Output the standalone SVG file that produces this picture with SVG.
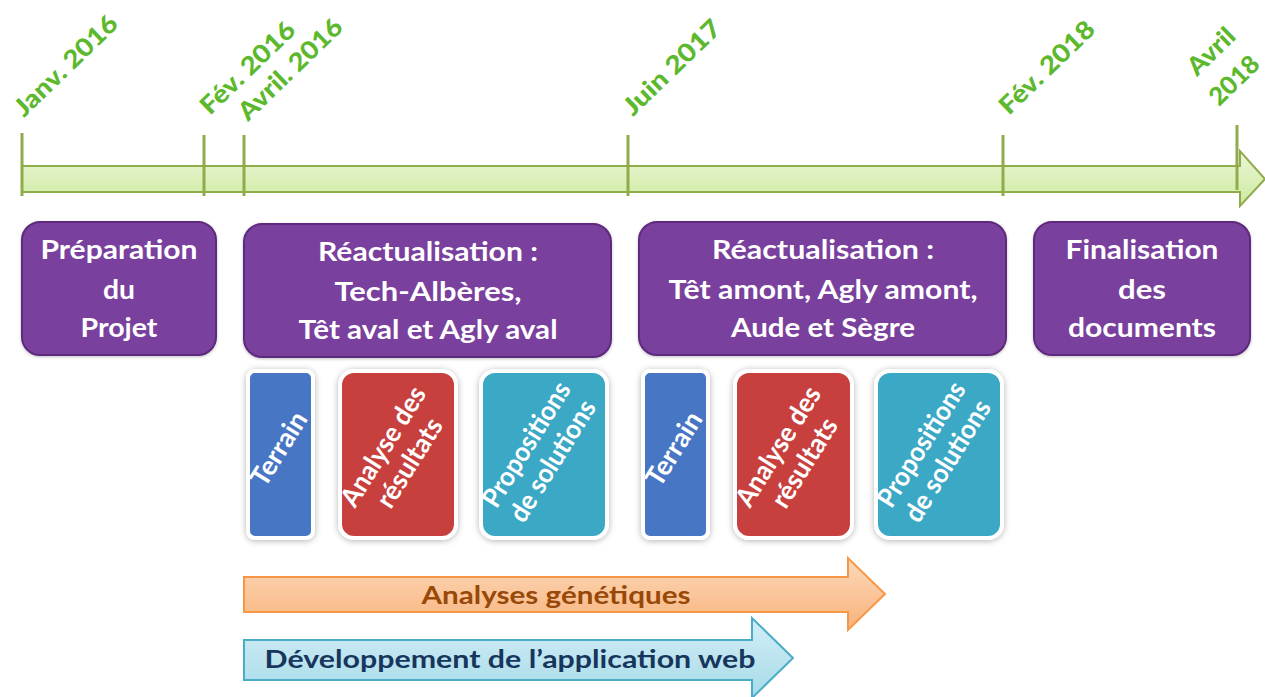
<svg xmlns="http://www.w3.org/2000/svg" width="1265" height="697" viewBox="0 0 1265 697">
<defs>
<linearGradient id="gGreen" x1="0" y1="0" x2="0" y2="1"><stop offset="0" stop-color="#eaf7d6"/><stop offset="1" stop-color="#cdeaa0"/></linearGradient>
<linearGradient id="gOrange" x1="0" y1="0" x2="0" y2="1"><stop offset="0" stop-color="#fcd9bb"/><stop offset="1" stop-color="#f9b27a"/></linearGradient>
<linearGradient id="gBlue" x1="0" y1="0" x2="0" y2="1"><stop offset="0" stop-color="#d3eef6"/><stop offset="1" stop-color="#a6dbe9"/></linearGradient>
<filter id="sh" x="-20%" y="-20%" width="140%" height="140%"><feDropShadow dx="0" dy="1" stdDeviation="3" flood-color="#000" flood-opacity="0.3"/></filter>
<filter id="shp" x="-10%" y="-10%" width="120%" height="120%"><feDropShadow dx="0" dy="1" stdDeviation="1.5" flood-color="#000" flood-opacity="0.25"/></filter>
</defs>
<style>
text{font-family:Lato,"Liberation Sans",sans-serif;font-weight:bold}
.date{fill:#5cb82c;font-size:25px;font-weight:900}
.tick{stroke:#8fab4b;stroke-width:3}
.phase{fill:#7a3f9d;stroke:#5d2a7e;stroke-width:2;filter:url(#shp)}
.ptxt{fill:#ffffff;font-size:26px;text-anchor:middle}
.sub{stroke:#ffffff;stroke-width:4;filter:url(#sh)}
.stxt{fill:#ffffff;font-size:27px;text-anchor:middle}
.terrain{fill:#4676c4}
.analyse{fill:#c8403c}
.prop{fill:#3aa8c6}
</style>
<rect width="1265" height="697" fill="#ffffff"/>

<g id="timeline">
<path d="M22,166 L1240,166 L1240,151 L1265,179 L1240,206 L1240,192 L22,192 Z" fill="url(#gGreen)" stroke="#8fab4b" stroke-width="2"/>
<line class="tick" x1="22" y1="133" x2="22" y2="196"/>
<line class="tick" x1="204" y1="135" x2="204" y2="196"/>
<line class="tick" x1="244" y1="135" x2="244" y2="196"/>
<line class="tick" x1="628" y1="135" x2="628" y2="196"/>
<line class="tick" x1="1003" y1="135" x2="1003" y2="196"/>
<line class="tick" x1="1237" y1="125" x2="1237" y2="190"/>
</g>

<g id="dates">
<text class="date" transform="translate(24,118) rotate(-44)" textLength="133" lengthAdjust="spacingAndGlyphs">Janv. 2016</text>
<text class="date" transform="translate(210,116) rotate(-44)" textLength="121" lengthAdjust="spacingAndGlyphs">Fév. 2016</text>
<text class="date" transform="translate(248,122) rotate(-44)" textLength="134" lengthAdjust="spacingAndGlyphs">Avril. 2016</text>
<text class="date" transform="translate(633,117) rotate(-44)" textLength="125" lengthAdjust="spacingAndGlyphs">Juin 2017</text>
<text class="date" transform="translate(1009,116) rotate(-44)" textLength="122" lengthAdjust="spacingAndGlyphs">Fév. 2018</text>
<text class="date" transform="translate(1197,77) rotate(-44)" textLength="56" lengthAdjust="spacingAndGlyphs">Avril</text>
<text class="date" transform="translate(1219,107) rotate(-44)" textLength="59" lengthAdjust="spacingAndGlyphs">2018</text>
</g>

<g id="phase-preparation">
<rect class="phase" x="22" y="222" width="194" height="133" rx="18"/>
<text class="ptxt" x="119" y="259" textLength="157" lengthAdjust="spacingAndGlyphs">Préparation</text>
<text class="ptxt" x="119" y="299" textLength="32" lengthAdjust="spacingAndGlyphs">du</text>
<text class="ptxt" x="119" y="337" textLength="77" lengthAdjust="spacingAndGlyphs">Projet</text>
</g>

<g id="phase-reactualisation-1">
<rect class="phase" x="244" y="224" width="367" height="133" rx="18"/>
<text class="ptxt" x="428" y="261" textLength="220" lengthAdjust="spacingAndGlyphs">Réactualisation :</text>
<text class="ptxt" x="428" y="301" textLength="187" lengthAdjust="spacingAndGlyphs">Tech-Albères,</text>
<text class="ptxt" x="428" y="339" textLength="259" lengthAdjust="spacingAndGlyphs">Têt aval et Agly aval</text>
</g>

<g id="phase-reactualisation-2">
<rect class="phase" x="639" y="222" width="367" height="133" rx="18"/>
<text class="ptxt" x="823" y="259" textLength="222" lengthAdjust="spacingAndGlyphs">Réactualisation :</text>
<text class="ptxt" x="823" y="299" textLength="309" lengthAdjust="spacingAndGlyphs">Têt amont, Agly amont,</text>
<text class="ptxt" x="823" y="337" textLength="184" lengthAdjust="spacingAndGlyphs">Aude et Sègre</text>
</g>

<g id="phase-finalisation">
<rect class="phase" x="1034" y="222" width="216" height="133" rx="18"/>
<text class="ptxt" x="1142" y="259" textLength="153" lengthAdjust="spacingAndGlyphs">Finalisation</text>
<text class="ptxt" x="1142" y="299" textLength="48" lengthAdjust="spacingAndGlyphs">des</text>
<text class="ptxt" x="1142" y="337" textLength="148" lengthAdjust="spacingAndGlyphs">documents</text>
</g>

<g id="terrain-1">
<rect class="sub terrain" x="248" y="371" width="65" height="167" rx="7"/>
<text class="stxt" transform="translate(279,449) rotate(-58)" y="9" textLength="82" lengthAdjust="spacingAndGlyphs">Terrain</text>
</g>
<g id="analyse-1">
<rect class="sub analyse" x="340" y="371" width="116" height="167" rx="14"/>
<text class="stxt" transform="translate(397,455) rotate(-58)" textLength="136" lengthAdjust="spacingAndGlyphs" y="-7">Analyse des</text>
<text class="stxt" transform="translate(397,455) rotate(-58)" textLength="100" lengthAdjust="spacingAndGlyphs" y="24">résultats</text>
</g>
<g id="propositions-1">
<rect class="sub prop" x="481" y="371" width="126" height="167" rx="14"/>
<text class="stxt" transform="translate(540,453) rotate(-58)" textLength="142" lengthAdjust="spacingAndGlyphs" y="-7">Propositions</text>
<text class="stxt" transform="translate(540,453) rotate(-58)" textLength="138" lengthAdjust="spacingAndGlyphs" y="24">de solutions</text>
</g>

<g id="terrain-2">
<rect class="sub terrain" x="643" y="371" width="65" height="167" rx="7"/>
<text class="stxt" transform="translate(674,449) rotate(-58)" y="9" textLength="82" lengthAdjust="spacingAndGlyphs">Terrain</text>
</g>
<g id="analyse-2">
<rect class="sub analyse" x="735" y="371" width="117" height="167" rx="14"/>
<text class="stxt" transform="translate(792,455) rotate(-58)" textLength="136" lengthAdjust="spacingAndGlyphs" y="-7">Analyse des</text>
<text class="stxt" transform="translate(792,455) rotate(-58)" textLength="100" lengthAdjust="spacingAndGlyphs" y="24">résultats</text>
</g>
<g id="propositions-2">
<rect class="sub prop" x="876" y="371" width="126" height="167" rx="14"/>
<text class="stxt" transform="translate(935,453) rotate(-58)" textLength="142" lengthAdjust="spacingAndGlyphs" y="-7">Propositions</text>
<text class="stxt" transform="translate(935,453) rotate(-58)" textLength="138" lengthAdjust="spacingAndGlyphs" y="24">de solutions</text>
</g>

<g id="analyses-genetiques">
<path d="M244,577 L848,577 L848,558 L885,594 L848,630 L848,612 L244,612 Z" fill="url(#gOrange)" stroke="#f79646" stroke-width="2"/>
<text x="556" y="604" fill="#984807" font-size="25" text-anchor="middle" textLength="269" lengthAdjust="spacingAndGlyphs">Analyses génétiques</text>
</g>

<g id="application-web">
<path d="M244,640 L752,640 L752,618 L793,658 L752,698 L752,680 L244,680 Z" fill="url(#gBlue)" stroke="#4bacc6" stroke-width="2"/>
<text x="510" y="668" fill="#17365d" font-size="25" text-anchor="middle" textLength="491" lengthAdjust="spacingAndGlyphs">Développement de l’application web</text>
</g>
</svg>
